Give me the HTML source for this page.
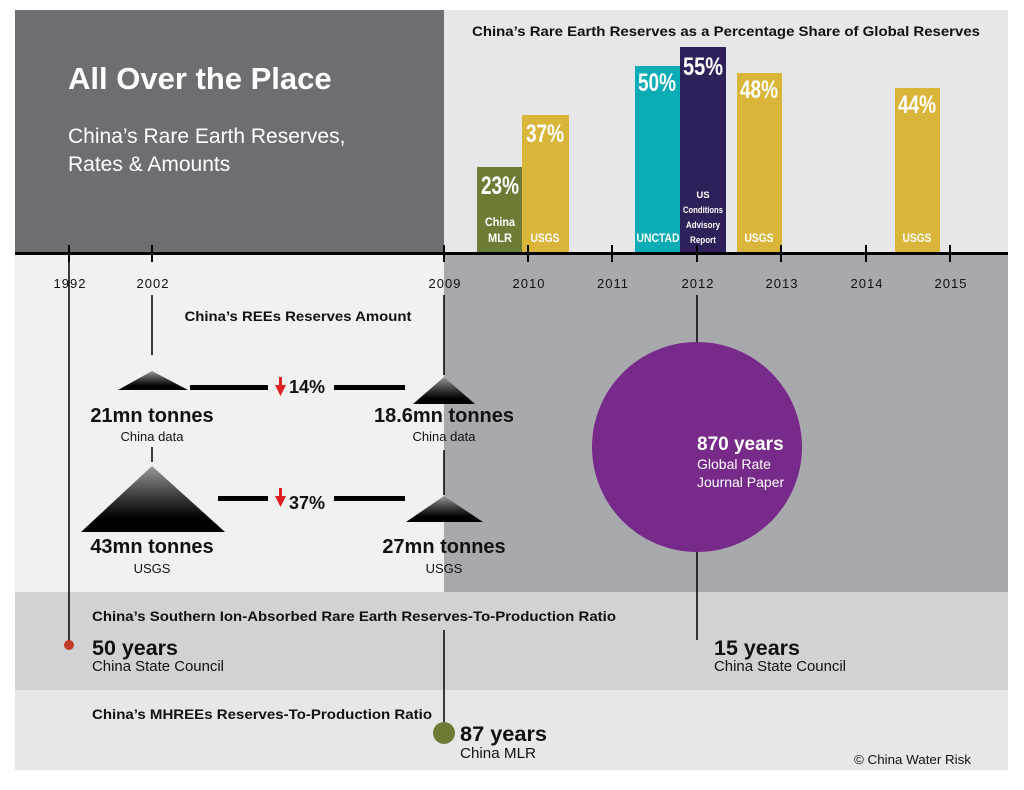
<!DOCTYPE html>
<html><head><meta charset="utf-8"><style>
body{margin:0;background:#fff;width:1024px;height:785px;overflow:hidden;font-family:"Liberation Sans",sans-serif}
svg text{font-family:"Liberation Sans",sans-serif}
</style></head><body>
<svg width="1024" height="785" viewBox="0 0 1024 785">
<defs>
<linearGradient id="pg" x1="0" y1="0" x2="0" y2="1">
<stop offset="0" stop-color="#999"/><stop offset="0.5" stop-color="#333"/><stop offset="0.8" stop-color="#000"/>
</linearGradient>
</defs>
<rect x="15" y="10" width="429" height="243" fill="#6d6e71"/>
<rect x="444" y="10" width="564" height="243" fill="#e6e7e8"/>
<rect x="15" y="255" width="429" height="337" fill="#f1f1f2"/>
<rect x="444" y="255" width="564" height="337" fill="#a7a9ac"/>
<rect x="15" y="592" width="993" height="98" fill="#d1d2d4"/>
<rect x="15" y="690" width="993" height="80" fill="#e6e7e8"/>

<text x="68" y="89" fill="#fff" font-size="31" font-weight="bold">All Over the Place</text>
<text x="68" y="143" fill="#fff" font-size="21">China’s Rare Earth Reserves,</text>
<text x="68" y="171" fill="#fff" font-size="21">Rates &amp; Amounts</text>
<text x="726" y="36" text-anchor="middle" font-size="14" font-weight="bold" fill="#111" textLength="508" lengthAdjust="spacingAndGlyphs">China’s Rare Earth Reserves as a Percentage Share of Global Reserves</text>

<rect x="477" y="167" width="45" height="86" fill="#6b7d35"/>
<rect x="522" y="115" width="47" height="138" fill="#d9b53a"/>
<rect x="635" y="66" width="45" height="187" fill="#0aacb5"/>
<rect x="680" y="47" width="46" height="206" fill="#302059"/>
<rect x="737" y="73" width="45" height="180" fill="#d9b53a"/>
<rect x="895" y="88" width="45" height="165" fill="#d9b53a"/>
<g fill="#fff" font-weight="bold" text-anchor="middle">
<text x="500" y="194" font-size="25" textLength="38" lengthAdjust="spacingAndGlyphs">23%</text>
<text x="545" y="142" font-size="25" textLength="38" lengthAdjust="spacingAndGlyphs">37%</text>
<text x="657" y="91" font-size="25" textLength="38" lengthAdjust="spacingAndGlyphs">50%</text>
<text x="703" y="75" font-size="25" textLength="40" lengthAdjust="spacingAndGlyphs">55%</text>
<text x="759" y="98" font-size="25" textLength="38" lengthAdjust="spacingAndGlyphs">48%</text>
<text x="917" y="113" font-size="25" textLength="38" lengthAdjust="spacingAndGlyphs">44%</text>
<text x="500" y="226" font-size="12" textLength="30" lengthAdjust="spacingAndGlyphs">China</text>
<text x="500" y="242" font-size="12" textLength="24" lengthAdjust="spacingAndGlyphs">MLR</text>
<text x="545" y="242" font-size="12" textLength="29" lengthAdjust="spacingAndGlyphs">USGS</text>
<text x="658" y="242" font-size="12" textLength="43" lengthAdjust="spacingAndGlyphs">UNCTAD</text>
<text x="703" y="198" font-size="9.5">US</text>
<text x="703" y="213" font-size="9.5" textLength="40" lengthAdjust="spacingAndGlyphs">Conditions</text>
<text x="703" y="228" font-size="9.5" textLength="34" lengthAdjust="spacingAndGlyphs">Advisory</text>
<text x="703" y="243" font-size="9.5" textLength="26" lengthAdjust="spacingAndGlyphs">Report</text>
<text x="759" y="242" font-size="12" textLength="29" lengthAdjust="spacingAndGlyphs">USGS</text>
<text x="917" y="242" font-size="12" textLength="29" lengthAdjust="spacingAndGlyphs">USGS</text>
</g>

<rect x="15" y="252" width="993" height="3" fill="#000"/>
<g stroke="#000" stroke-width="2">
<line x1="69" y1="245" x2="69" y2="262"/><line x1="152" y1="245" x2="152" y2="262"/>
<line x1="444" y1="245" x2="444" y2="262"/><line x1="528" y1="245" x2="528" y2="262"/>
<line x1="612" y1="245" x2="612" y2="262"/><line x1="697" y1="245" x2="697" y2="262"/>
<line x1="781" y1="245" x2="781" y2="262"/><line x1="866" y1="245" x2="866" y2="262"/>
<line x1="950" y1="245" x2="950" y2="262"/>
</g>
<g font-size="13" text-anchor="middle" fill="#111" letter-spacing="1">
<text x="70" y="288">1992</text><text x="153" y="288">2002</text><text x="445" y="288">2009</text>
<text x="529" y="288">2010</text><text x="613" y="288">2011</text><text x="698" y="288">2012</text>
<text x="782" y="288">2013</text><text x="867" y="288">2014</text><text x="951" y="288">2015</text>
</g>

<g stroke="#000" stroke-width="1.5">
<line x1="69" y1="262" x2="69" y2="644"/>
<line x1="152" y1="295" x2="152" y2="355"/>
<line x1="152" y1="447" x2="152" y2="462"/>
<line x1="444" y1="295" x2="444" y2="375"/>
<line x1="444" y1="450" x2="444" y2="495"/>
<line x1="444" y1="630" x2="444" y2="722"/>
<line x1="697" y1="295" x2="697" y2="345"/>
<line x1="697" y1="550" x2="697" y2="640"/>
</g>
<circle cx="69" cy="645" r="5" fill="#c0392b"/>
<circle cx="444" cy="733" r="11" fill="#6b7d35"/>
<circle cx="697" cy="447" r="105" fill="#772a8a"/>
<text x="697" y="450" fill="#fff" font-size="19" font-weight="bold">870 years</text>
<text x="697" y="469" fill="#fff" font-size="14">Global Rate</text>
<text x="697" y="487" fill="#fff" font-size="14">Journal Paper</text>

<text x="298" y="321" text-anchor="middle" font-size="14" font-weight="bold" fill="#111" textLength="227" lengthAdjust="spacingAndGlyphs">China’s REEs Reserves Amount</text>

<polygon points="118,390 152,371 188,390" fill="url(#pg)"/>
<polygon points="81,532 152,466 225,532" fill="url(#pg)"/>
<polygon points="413,404 444,377 475,404" fill="url(#pg)"/>
<polygon points="406,522 444,496 483,522" fill="url(#pg)"/>

<g fill="#000">
<rect x="190" y="385" width="78" height="5"/><rect x="334" y="385" width="71" height="5"/>
<rect x="218" y="496" width="50" height="5"/><rect x="334" y="496" width="71" height="5"/>
</g>
<g fill="#e02020">
<rect x="279" y="377" width="3" height="10"/><polygon points="275,385 286,385 280.5,396"/>
<rect x="279" y="488" width="3" height="10"/><polygon points="275,496 286,496 280.5,507"/>
</g>
<g font-weight="bold" font-size="18" fill="#111"><text x="289" y="393">14%</text><text x="289" y="509">37%</text></g>

<g text-anchor="middle" fill="#111">
<text x="152" y="422" font-size="20" font-weight="bold">21mn tonnes</text>
<text x="152" y="441" font-size="13">China data</text>
<text x="444" y="422" font-size="20" font-weight="bold">18.6mn tonnes</text>
<text x="444" y="441" font-size="13">China data</text>
<text x="152" y="553" font-size="20" font-weight="bold">43mn tonnes</text>
<text x="152" y="573" font-size="13">USGS</text>
<text x="444" y="553" font-size="20" font-weight="bold">27mn tonnes</text>
<text x="444" y="573" font-size="13">USGS</text>
</g>

<g fill="#111">
<text x="92" y="621" font-size="14" font-weight="bold" textLength="524" lengthAdjust="spacingAndGlyphs">China’s Southern Ion-Absorbed Rare Earth Reserves-To-Production Ratio</text>
<text x="92" y="655" font-size="21" font-weight="bold" textLength="86" lengthAdjust="spacingAndGlyphs">50 years</text>
<text x="92" y="671" font-size="15" textLength="132" lengthAdjust="spacingAndGlyphs">China State Council</text>
<text x="714" y="655" font-size="21" font-weight="bold" textLength="86" lengthAdjust="spacingAndGlyphs">15 years</text>
<text x="714" y="671" font-size="15" textLength="132" lengthAdjust="spacingAndGlyphs">China State Council</text>
<text x="92" y="719" font-size="14" font-weight="bold" textLength="340" lengthAdjust="spacingAndGlyphs">China’s MHREEs Reserves-To-Production Ratio</text>
<text x="460" y="741" font-size="21" font-weight="bold" textLength="87" lengthAdjust="spacingAndGlyphs">87 years</text>
<text x="460" y="758" font-size="15" textLength="76" lengthAdjust="spacingAndGlyphs">China MLR</text>
<text x="971" y="764" font-size="13" text-anchor="end" textLength="117" lengthAdjust="spacingAndGlyphs">© China Water Risk</text>
</g>
</svg>
</body></html>
